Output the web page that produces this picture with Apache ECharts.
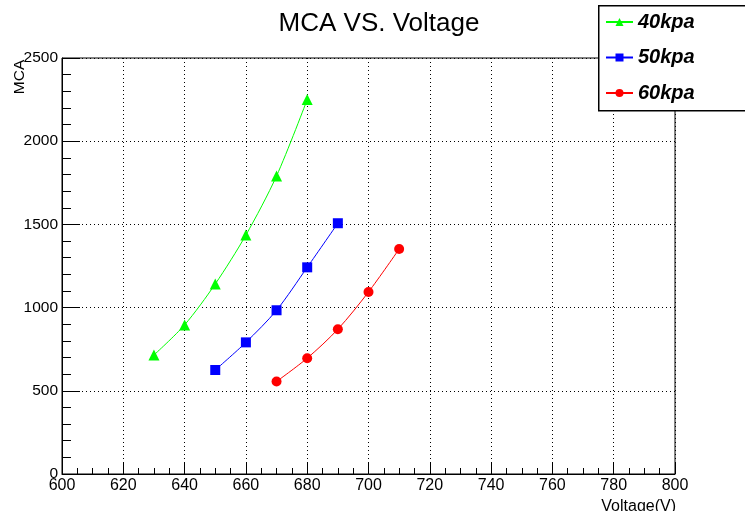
<!DOCTYPE html>
<html><head><meta charset="utf-8">
<script src="https://cdn.jsdelivr.net/npm/echarts@6/dist/echarts.min.js"></script>
<style>html,body{margin:0;padding:0;background:#fff}#c{width:745px;height:511px}</style>
</head><body><div id="c"></div>
<script>
var voltage40 = [630, 640, 650, 660, 670, 680];
var mca40 = [715, 896, 1142, 1436, 1791, 2250];
var voltage50 = [650, 660, 670, 680, 690];
var mca50 = [625, 791, 984, 1242, 1507];
var voltage60 = [670, 680, 690, 700, 710];
var mca60 = [556, 696, 870, 1094, 1352];
var seriesNames = ['40kpa', '50kpa', '60kpa'];

var font = 'Liberation Sans, Arial, sans-serif';
function pairs(xs, ys){ return xs.map(function(x,i){ return [x, ys[i]]; }); }
function plain(v){ return String(v); }

var chart = echarts.init(document.getElementById('c'));
chart.setOption({
  animation: false,
  backgroundColor: '#fff',
  title: {text: 'MCA VS. Voltage', left: 374, top: 6, textAlign: 'center',
    textStyle: {fontFamily: font, fontSize: 26, fontWeight: 'normal', color: '#000'}},
  grid: {left: 62, right: 70, top: 58, bottom: 37, show: true, borderColor: '#000', borderWidth: 1, backgroundColor: 'transparent'},
  xAxis: {type: 'value', min: 600, max: 800, interval: 20,
    axisLine: {lineStyle: {color: '#000', width: 1}},
    axisTick: {inside: true, length: 12, lineStyle: {color: '#000'}},
    minorTick: {show: true, splitNumber: 4, length: 6, lineStyle: {color: '#000'}},
    splitLine: {show: true, lineStyle: {color: '#000', type: [1, 3], width: 1}},
    axisLabel: {fontFamily: font, fontSize: 16, color: '#000', margin: 4, formatter: plain}},
  yAxis: {type: 'value', min: 0, max: 2500, interval: 500,
    axisLine: {show: true, lineStyle: {color: '#000', width: 1}},
    axisTick: {show: true, inside: true, length: 18, lineStyle: {color: '#000'}},
    minorTick: {show: true, splitNumber: 5, length: 9, lineStyle: {color: '#000'}},
    splitLine: {show: true, lineStyle: {color: '#000', type: [1, 3], width: 1}},
    axisLabel: {fontFamily: font, fontSize: 15.5, color: '#000', margin: 4, formatter: plain}},
  graphic: [
    {type: 'rect', left: 598, top: 5, shape: {width: 160, height: 105}, z: 50,
      style: {fill: '#fff', stroke: '#000', lineWidth: 1.5}},
    {type: 'text', x: 20, y: 77, rotation: Math.PI / 2, z: 60,
      style: {text: 'MCA', fontFamily: font, fontSize: 15.5, fill: '#000', textAlign: 'center', textVerticalAlign: 'middle'}},
    {type: 'text', x: 676, y: 499, z: 60,
      style: {text: 'Voltage(V)', fontFamily: font, fontSize: 16, fill: '#000', textAlign: 'right', textVerticalAlign: 'top'}}
  ],
  legend: {orient: 'vertical', left: 600, top: 7, itemWidth: 27, itemHeight: 10, itemGap: 15.5, z: 70,
    data: seriesNames,
    textStyle: {fontFamily: font, fontSize: 20, fontWeight: 'bold', fontStyle: 'italic', color: '#000'}},
  series: [
    {name: seriesNames[0], type: 'line', smooth: 0.3, data: pairs(voltage40, mca40), symbol: 'triangle', symbolSize: 11,
      itemStyle: {color: '#00ff00'}, lineStyle: {color: '#00ff00', width: 1}},
    {name: seriesNames[1], type: 'line', smooth: 0.3, data: pairs(voltage50, mca50), symbol: 'rect', symbolSize: 10,
      itemStyle: {color: '#0000ff'}, lineStyle: {color: '#0000ff', width: 1}},
    {name: seriesNames[2], type: 'line', smooth: 0.3, data: pairs(voltage60, mca60), symbol: 'circle', symbolSize: 10,
      itemStyle: {color: '#ff0000'}, lineStyle: {color: '#ff0000', width: 1}}
  ]
});
</script></body></html>
